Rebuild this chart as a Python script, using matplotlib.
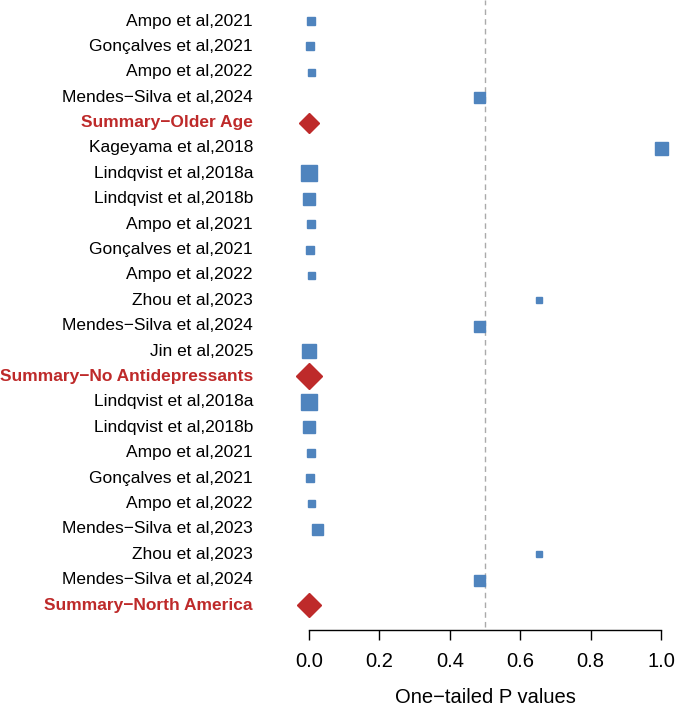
import matplotlib
matplotlib.use("Agg")
import matplotlib.pyplot as plt
import numpy as np

plt.rcParams['font.family'] = ['Liberation Sans', 'DejaVu Sans']

labels = [
    "Ampo et al,2021", "Gonçalves et al,2021", "Ampo et al,2022",
    "Mendes\u2212Silva et al,2024", "Summary\u2212Older Age",
    "Kageyama et al,2018", "Lindqvist et al,2018a", "Lindqvist et al,2018b",
    "Ampo et al,2021", "Gonçalves et al,2021", "Ampo et al,2022",
    "Zhou et al,2023", "Mendes\u2212Silva et al,2024", "Jin et al,2025",
    "Summary\u2212No Antidepressants",
    "Lindqvist et al,2018a", "Lindqvist et al,2018b", "Ampo et al,2021",
    "Gonçalves et al,2021", "Ampo et al,2022", "Mendes\u2212Silva et al,2023",
    "Zhou et al,2023", "Mendes\u2212Silva et al,2024", "Summary\u2212North America",
]
p_values = [
    0.005, 0.003, 0.005, 0.483, 0.0,
    1.0, 0.0, 0.0, 0.005, 0.003, 0.005, 0.653, 0.483, 0.0, 0.0,
    0.0, 0.0, 0.005, 0.003, 0.005, 0.023, 0.653, 0.483, 0.0,
]
# relative study weight -> box size (pixels)
weights = [
    8, 8, 7, 11, 16,
    13, 16, 12, 8, 8, 7, 6, 11, 14, 20,
    16, 12, 8, 8, 7, 11, 6, 11, 18,
]
is_summary = [lab.startswith("Summary") for lab in labels]

blue = "#4F84BE"
red = "#BE2A2A"
px2pt = 72 / 100

fig = plt.figure(figsize=(6.75, 7.1), dpi=100)
ax = fig.add_axes([309 / 675, 80 / 710, 352 / 675, 630 / 710])

n = len(labels)
y = np.arange(n)
for yi, p, w, s in zip(y, p_values, weights, is_summary):
    if s:
        ax.plot(p, yi, marker="D", ms=w * px2pt / 1.1, color=red,
                ls="none", clip_on=False, zorder=3)
    else:
        ax.plot(p, yi, marker="s", ms=w * px2pt, color=blue, mec=blue,
                ls="none", clip_on=False, zorder=3)

ax.axvline(0.5, color="#AAAAAA", ls=(0, (4, 3)), lw=1, ymin=0.005, zorder=1)

pitch = (605 - 21) / 23
ax.set_ylim(23 + 25 / pitch, -21 / pitch)
ax.set_xlim(0, 1)

for yi, lab, s in zip(y, labels, is_summary):
    ax.text(-56 / 352, yi, lab, ha="right", va="center", fontsize=12.5,
            color=red if s else "black", fontweight="bold" if s else "normal")

for side in ["top", "right", "left"]:
    ax.spines[side].set_visible(False)
ax.spines["bottom"].set_linewidth(1.0)
ax.set_yticks([])
ticks = np.arange(0, 1.01, 0.2)
ax.set_xticks(ticks)
ax.set_xticklabels([f"{t:.1f}" for t in ticks], fontsize=14.5)
ax.tick_params(axis="x", length=7, width=1.0, pad=9)
ax.set_xlabel("One\u2212tailed P values", fontsize=14.5, labelpad=12)

fig.savefig("out.png", dpi=100)
